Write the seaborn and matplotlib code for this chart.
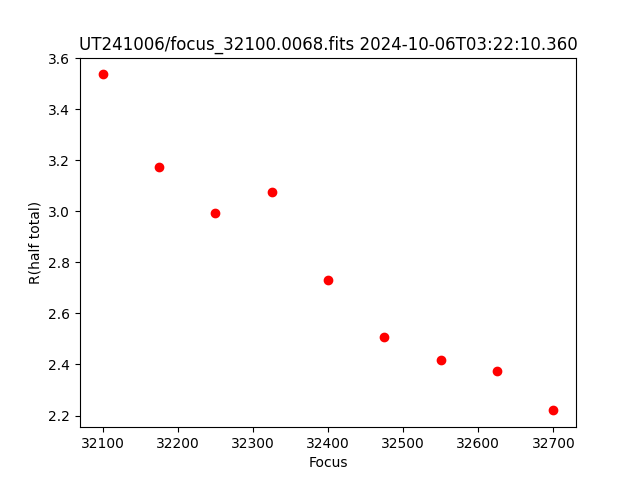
import matplotlib
matplotlib.use("Agg")
import matplotlib.pyplot as plt
import seaborn as sns
import pandas as pd

focus = [32100, 32175, 32250, 32325, 32400, 32475, 32550, 32625, 32700]
r_half = [3.537, 3.176, 2.992, 3.075, 2.733, 2.506, 2.416, 2.373, 2.220]
title = "UT241006/focus_32100.0068.fits 2024-10-06T03:22:10.360"

df = pd.DataFrame({"Focus": focus, "R(half total)": r_half})

fig, ax = plt.subplots(figsize=(6.4, 4.8), dpi=100)
sns.scatterplot(data=df, x="Focus", y="R(half total)", ax=ax,
                color="red", edgecolor="red", linewidth=1, s=36, marker="o")
ax.set_title(title)
ax.set_xlabel("Focus")
ax.set_ylabel("R(half total)")
fig.savefig("out.png", dpi=100)
